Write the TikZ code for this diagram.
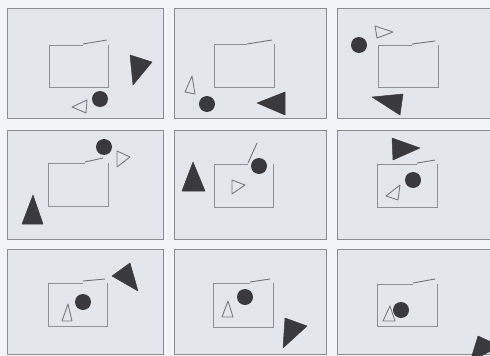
\documentclass[tikz,border=0pt]{standalone}
\definecolor{bgc}{HTML}{F3F4F7}
\definecolor{panelc}{HTML}{E4E6ED}
\definecolor{framec}{HTML}{8C8D92}
\definecolor{boxc}{HTML}{8E8E94}
\definecolor{darkc}{HTML}{3A3A3E}
\definecolor{openc}{HTML}{7A7A80}
\tikzset{
  panel/.style={fill=panelc,draw=framec,line width=0.9pt},
  boxline/.style={draw=boxc,line width=0.7pt},
  lidline/.style={draw=boxc!80!black,line width=0.9pt},
  darktri/.style={fill=darkc,draw=darkc,line width=0.5pt,line join=round},
  ball/.style={fill=darkc},
  opentri/.style={draw=openc,line width=0.9pt,line join=round}
}
\begin{document}
\begin{tikzpicture}[x=1pt,y=-1pt]
\useasboundingbox (0,0) rectangle (490,356);
\clip (0,0) rectangle (490,356);
\fill[bgc] (0,0) rectangle (490,356);
% panels
\foreach \xa/\xb in {7/163,174/326,337/496}{
  \foreach \ya/\yb in {8/118,130/239,249/354}{
    \draw[panel] (\xa,\ya) rectangle (\xb,\yb);
  }
}
% ---------- panel 1
\draw[boxline] (83,45) -- (49,45) -- (49,87) -- (108,87) -- (108,45);
\draw[lidline] (83,44) -- (107,40);
\draw[darktri] (130,55) -- (152,62) -- (133,85) -- cycle;
\fill[ball] (100,99) circle[radius=8pt];
\draw[opentri] (72,107) -- (87,100) -- (86,113) -- cycle;
% ---------- panel 2
\draw[boxline] (247,44) -- (214,44) -- (214,87) -- (274,87) -- (274,44);
\draw[lidline] (247,44) -- (272,40);
\draw[opentri] (192,76) -- (185,92) -- (195,94) -- cycle;
\fill[ball] (207,104) circle[radius=8pt];
\draw[darktri] (257,103) -- (285,92) -- (285,115) -- cycle;
% ---------- panel 3
\draw[boxline] (412,45) -- (378,45) -- (378,87) -- (438,87) -- (438,45);
\draw[lidline] (412,44) -- (435,41);
\draw[opentri] (375,26) -- (393,32) -- (377,38) -- cycle;
\fill[ball] (359,45) circle[radius=8pt];
\draw[darktri] (372,97) -- (403,94) -- (400,115) -- cycle;
% ---------- panel 4
\draw[boxline] (85,163) -- (48,163) -- (48,206) -- (108,206) -- (108,163);
\draw[lidline] (85,162) -- (103,158);
\fill[ball] (104,147) circle[radius=8pt];
\draw[opentri] (117,151) -- (130,157) -- (117,167) -- cycle;
\draw[darktri] (33,195) -- (22,224) -- (43,224) -- cycle;
% ---------- panel 5
\draw[boxline] (248,164) -- (214,164) -- (214,207) -- (273,207) -- (273,164);
\draw[lidline] (248,163) -- (257,143);
\fill[ball] (259,166) circle[radius=8pt];
\draw[opentri] (232,180) -- (245,185) -- (232,194) -- cycle;
\draw[darktri] (193,162) -- (182,191) -- (205,191) -- cycle;
% ---------- panel 6
\draw[boxline] (417,164) -- (377,164) -- (377,207) -- (437,207) -- (437,164);
\draw[lidline] (417,163) -- (435,160);
\draw[darktri] (392,138) -- (420,148) -- (393,160) -- cycle;
\fill[ball] (413,180) circle[radius=8pt];
\draw[opentri] (400,185) -- (398,200) -- (386,196) -- cycle;
% ---------- panel 7
\draw[boxline] (83,283) -- (48,283) -- (48,326) -- (107,326) -- (107,283);
\draw[lidline] (83,281) -- (105,279);
\fill[ball] (83,302) circle[radius=8pt];
\draw[opentri] (68,304) -- (62,321) -- (72,321) -- cycle;
\draw[darktri] (130,263) -- (112,276) -- (138,291) -- cycle;
% ---------- panel 8
\draw[boxline] (250,283) -- (213,283) -- (213,327) -- (273,327) -- (273,283);
\draw[lidline] (250,282) -- (270,279);
\fill[ball] (245,297) circle[radius=8pt];
\draw[opentri] (228,301) -- (222,317) -- (233,317) -- cycle;
\draw[darktri] (285,318) -- (307,326) -- (283,348) -- cycle;
% ---------- panel 9
\draw[boxline] (413,284) -- (377,284) -- (377,326) -- (437,326) -- (437,284);
\draw[lidline] (413,283) -- (435,279);
\draw[opentri] (390,306) -- (383,321) -- (395,321) -- cycle;
\fill[ball] (401,310) circle[radius=8pt];
\draw[darktri] (478,336) -- (500,346) -- (470,362) -- cycle;
\end{tikzpicture}
\end{document}
